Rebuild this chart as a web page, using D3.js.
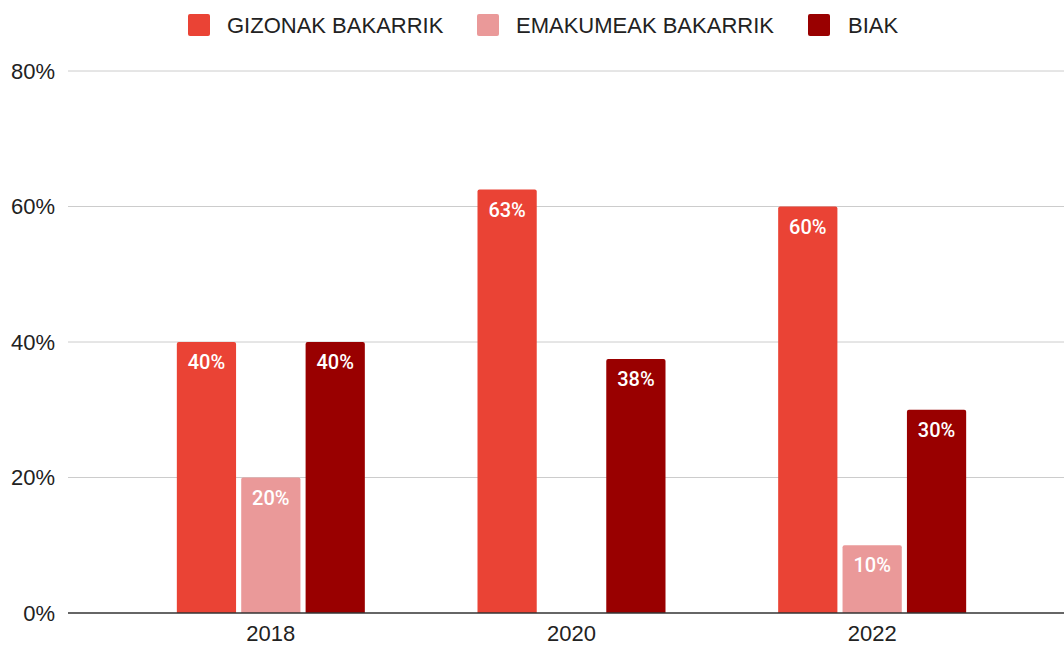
<!DOCTYPE html>
<html>
<head>
<meta charset="utf-8">
<script src="https://cdn.jsdelivr.net/npm/d3@7"></script>
<style>
  body { margin: 0; background: #fff; }
  text { font-family: "Liberation Sans", Arial, sans-serif; }
</style>
</head>
<body>
<div id="container"></div>
<script>
let w = 1064;
let h = 646;

// data
let years = ["2018", "2020", "2022"];
let seriesNames = ["GIZONAK BAKARRIK", "EMAKUMEAK BAKARRIK", "BIAK"];
let gizonak = [40, 62.5, 60];
let emakumeak = [20, 0, 10];
let biak = [40, 37.5, 30];
let colors = ["#ea4335", "#ea9999", "#990000"];
let yTicks = [0, 20, 40, 60, 80];

let seriesValues = [gizonak, emakumeak, biak];

let viz = d3.select("#container")
  .append("svg")
    .attr("width", w)
    .attr("height", h);

let plotLeft = 68, plotRight = 1064, plotTop = 71, plotBottom = 613;

let yScale = d3.scaleLinear().domain([0, 80]).range([plotBottom, plotTop]);
let x0 = d3.scaleBand().domain(years).range([120.5, 1022.5]);
let x1 = d3.scaleBand().domain(seriesNames).range([-94, 94]).paddingInner(0.08);

// gridlines
viz.append("g").selectAll("line")
  .data(yTicks.filter(t => t > 0))
  .join("line")
    .attr("x1", plotLeft).attr("x2", plotRight)
    .attr("y1", d => yScale(d)).attr("y2", d => yScale(d))
    .attr("stroke", "#cccccc").attr("stroke-width", 1);

// y tick labels
viz.append("g").selectAll("text")
  .data(yTicks)
  .join("text")
    .attr("x", 55)
    .attr("y", d => yScale(d))
    .attr("dy", "0.35em")
    .attr("text-anchor", "end")
    .attr("font-size", 22)
    .attr("fill", "#222")
    .text(d => d + "%");

// bars
let rows = [];
years.forEach((yr, i) => {
  seriesNames.forEach((s, j) => {
    rows.push({ year: yr, series: s, value: seriesValues[j][i], color: colors[j] });
  });
});

let barGroup = viz.append("g");
function barPath(d) {
  let x = x0(d.year) + x0.bandwidth() / 2 + x1(d.series);
  let bw = x1.bandwidth();
  let y = yScale(d.value);
  let r = Math.min(2, (plotBottom - y) / 2);
  return "M" + x + "," + plotBottom +
    "V" + (y + r) +
    "Q" + x + "," + y + " " + (x + r) + "," + y +
    "H" + (x + bw - r) +
    "Q" + (x + bw) + "," + y + " " + (x + bw) + "," + (y + r) +
    "V" + plotBottom + "Z";
}
barGroup.selectAll("path")
  .data(rows.filter(d => d.value > 0))
  .join("path")
    .attr("d", barPath)
    .attr("fill", d => d.color);

barGroup.selectAll("text")
  .data(rows.filter(d => d.value > 0))
  .join("text")
    .attr("x", d => x0(d.year) + x0.bandwidth() / 2 + x1(d.series) + x1.bandwidth() / 2)
    .attr("y", d => yScale(d.value) + 20)
    .attr("dy", "0.35em")
    .attr("text-anchor", "middle")
    .style("font-family", "Roboto, 'Liberation Sans', sans-serif")
    .attr("font-size", 20)
    .attr("font-weight", 500)
    .attr("fill", "#fff")
    .text(d => Math.round(d.value) + "%");

// baseline
viz.append("line")
  .attr("x1", plotLeft).attr("x2", plotRight)
  .attr("y1", plotBottom).attr("y2", plotBottom)
  .attr("stroke", "#333").attr("stroke-width", 1.5);

// x labels
viz.append("g").selectAll("text")
  .data(years)
  .join("text")
    .attr("x", d => x0(d) + x0.bandwidth() / 2)
    .attr("y", 633)
    .attr("dy", "0.35em")
    .attr("text-anchor", "middle")
    .attr("font-size", 22)
    .attr("fill", "#222")
    .text(d => d);

// legend
let legendX = [188, 477, 808];
let legend = viz.append("g").selectAll("g")
  .data(seriesNames)
  .join("g")
    .attr("transform", (d, i) => "translate(" + legendX[i] + ",14)");
legend.append("rect")
  .attr("width", 22).attr("height", 22).attr("rx", 2)
  .attr("fill", (d, i) => colors[i]);
legend.append("text")
  .attr("x", (d, i) => i === 2 ? 40 : 39).attr("y", 11)
  .attr("dy", "0.35em")
  .attr("font-size", 22)
  .attr("fill", "#222")
  .text(d => d);
</script>
</body>
</html>
